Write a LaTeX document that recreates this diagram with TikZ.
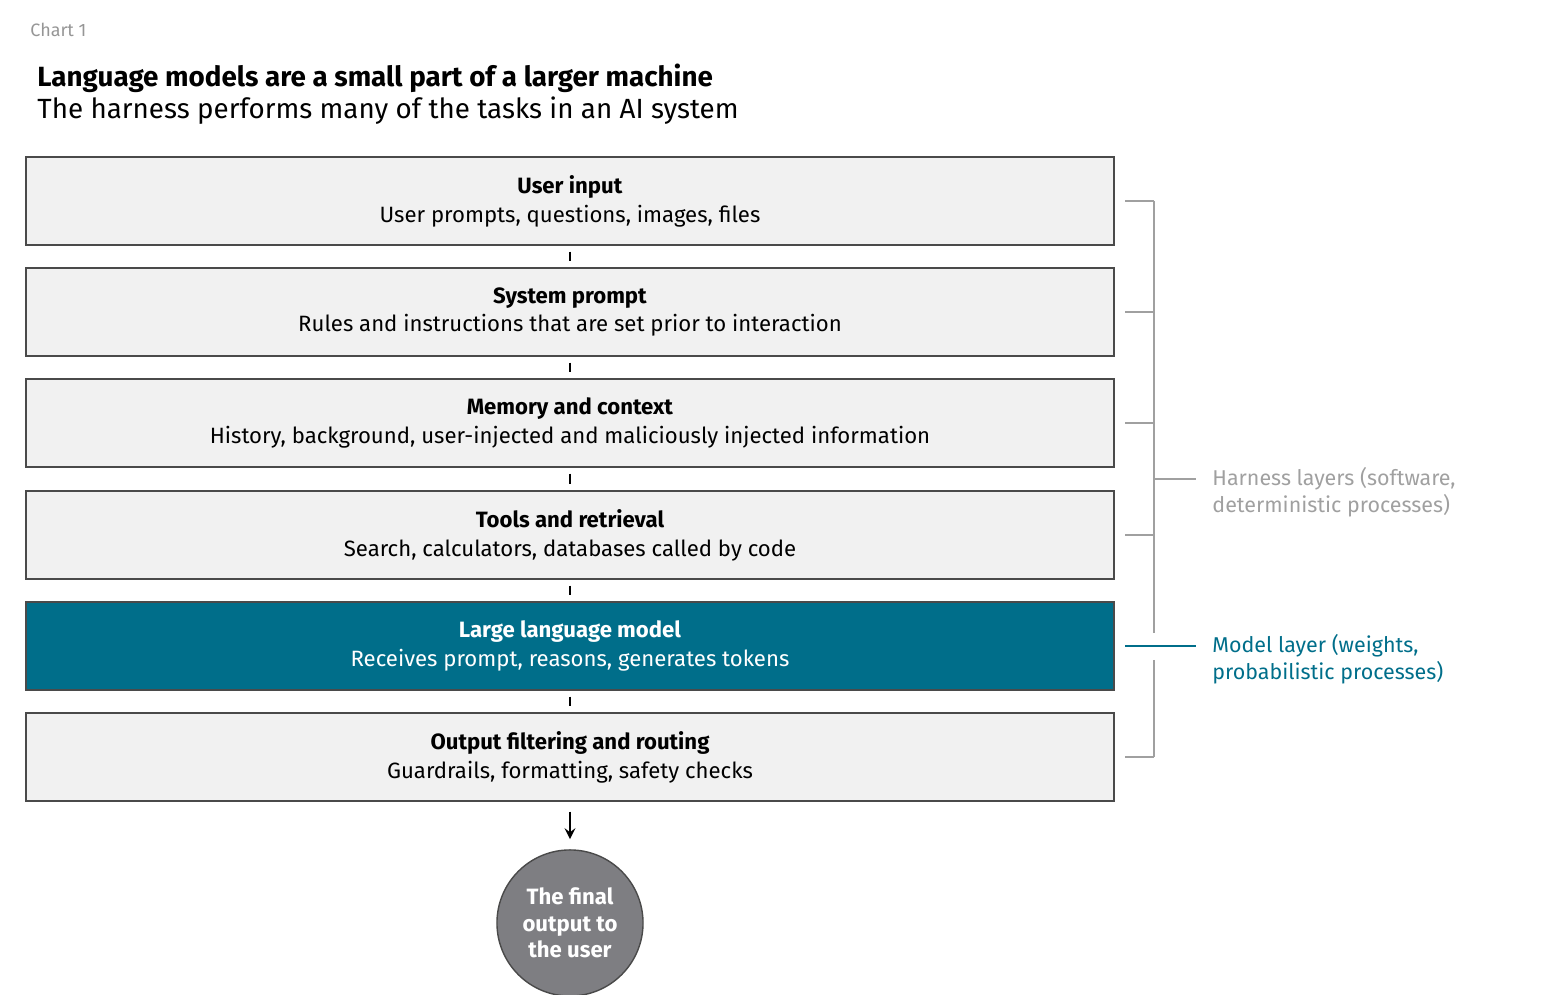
\documentclass[tikz,border=0pt]{standalone}
\usepackage{fontspec}
\setmainfont{Fira Sans}
\usetikzlibrary{positioning}
\definecolor{boxfill}{HTML}{F1F1F1}
\definecolor{boxline}{HTML}{4A4A4A}
\definecolor{llmteal}{HTML}{006E8A}
\definecolor{labgray}{HTML}{A0A0A0}
\definecolor{outgray}{HTML}{7E7E82}
\tikzset{
  layerbox/.style={draw=boxline, fill=boxfill, minimum width=10.87cm, minimum height=0.88cm,
                   align=center, font=\fontsize{6.3}{8.2}\selectfont, inner sep=0pt},
  llmbox/.style={layerbox, fill=llmteal, draw=boxline, text=white},
  tick/.style={draw=black, line width=0.4pt, shorten >=0.06cm, shorten <=0.06cm},
  bracket/.style={draw=labgray, line width=0.5pt}
}
\begin{document}
\begin{tikzpicture}[x=0.01cm, y=-0.01cm]
\useasboundingbox (0,0) rectangle (1550,995);

% headings
\node[anchor=west, text=labgray!110, font=\fontsize{5.1}{6}\selectfont] (chart) at (18,30) {Chart 1};
\node[anchor=west, font=\fontsize{7.9}{9}\selectfont\bfseries] (title) at (25,78) {Language models are a small part of a larger machine};
\node[anchor=west, font=\fontsize{7.9}{9}\selectfont\addfontfeature{FakeBold=0}] (subtitle) at (25,111) {The harness performs many of the tasks in an AI system};

% layers
\node[layerbox] (user) at (570,201) {\textbf{User input}\\User prompts, questions, images, files};
\node[layerbox] (sys) at (570,312) {\textbf{System prompt}\\Rules and instructions that are set prior to interaction};
\node[layerbox] (mem) at (570,423) {\textbf{Memory and context}\\History, background, user-injected and maliciously injected information};
\node[layerbox] (tools) at (570,535) {\textbf{Tools and retrieval}\\Search, calculators, databases called by code};
\node[llmbox] (llm) at (570,646) {\textbf{Large language model}\\Receives prompt, reasons, generates tokens};
\node[layerbox] (out) at (570,757) {\textbf{Output filtering and routing}\\Guardrails, formatting, safety checks};

% ticks between layers
\foreach \a/\b in {user/sys, sys/mem, mem/tools, tools/llm, llm/out}
  \draw[tick] (\a.south) -- (\b.north);

% final output
\node[circle, fill=outgray, draw=boxline, minimum size=1.46cm, inner sep=0pt, align=center,
      text=white, font=\fontsize{6.3}{7.6}\selectfont\bfseries] (final) at (570,923) {The final\\output to\\the user};
\draw[-stealth, line width=0.4pt, shorten >=0.1cm, shorten <=0.1cm] (out.south) -- (final.north);

% bracket
\coordinate (btop) at (1154,201);
\coordinate (bmid) at (1154,633);
\coordinate (blow) at (1154,660);
\coordinate (bbot) at (1154,757);
\foreach \y in {201,312,423,535,757}
  \draw[bracket] (1125,\y) -- (1154,\y);
\draw[bracket] (btop) -- (bmid);
\draw[bracket] (blow) -- (bbot);
\draw[bracket] (1154,479) -- (1196,479);
\draw[draw=llmteal, line width=0.5pt] (1125,646) -- (1196,646);

\node[anchor=west, align=left, text=labgray, font=\fontsize{6.1}{7.6}\selectfont] (harness) at (1200,492) {Harness layers (software,\\deterministic processes)};
\node[anchor=west, align=left, text=llmteal, font=\fontsize{6.1}{7.6}\selectfont] (model) at (1200,659) {Model layer (weights,\\probabilistic processes)};
\end{tikzpicture}
\end{document}
